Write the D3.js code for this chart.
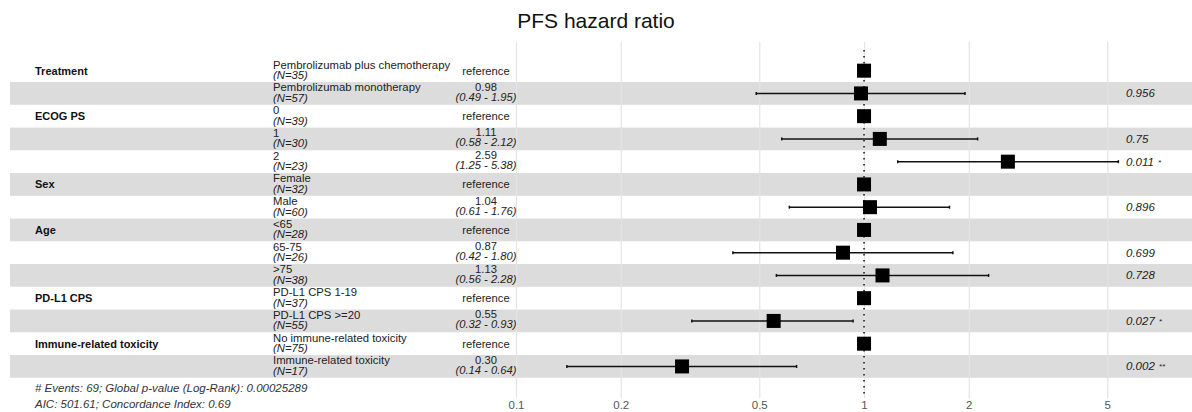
<!DOCTYPE html>
<html>
<head>
<meta charset="utf-8">
<script src="https://cdn.jsdelivr.net/npm/d3@7"></script>
<style>
  body { margin: 0; background: #fff; }
  svg text { font-family: "Liberation Sans", Arial, Helvetica, sans-serif; }
</style>
</head>
<body>
<script>
// group names (shown on first row of each group)
var varNames = ["Treatment", "", "ECOG PS", "", "", "Sex", "", "Age", "", "", "PD-L1 CPS", "", "Immune-related toxicity", ""];
var levels = ["Pembrolizumab plus chemotherapy", "Pembrolizumab monotherapy", "0", "1", "2", "Female", "Male",
              "<65", "65-75", ">75", "PD-L1 CPS 1-19", "PD-L1 CPS >=20", "No immune-related toxicity", "Immune-related toxicity"];
var nCounts = [35, 57, 39, 30, 23, 32, 60, 28, 26, 38, 37, 55, 75, 17];
// hazard ratios, null lower/upper = reference level
var hr    = [1, 0.98, 1, 1.11, 2.59, 1, 1.04, 1, 0.87, 1.13, 1, 0.55, 1, 0.30];
var lower = [null, 0.49, null, 0.58, 1.25, null, 0.61, null, 0.42, 0.56, null, 0.32, null, 0.14];
var upper = [null, 1.95, null, 2.12, 5.38, null, 1.76, null, 1.80, 2.28, null, 0.93, null, 0.64];
var pvals = ["", "0.956", "", "0.75", "0.011", "", "0.896", "", "0.699", "0.728", "", "0.027", "", "0.002"];
var stars = ["", "", "", "", "*", "", "", "", "", "", "", "*", "", "**"];
var ticks = [0.1, 0.2, 0.5, 1, 2, 5];

var width = 1192, height = 412;

var svg = d3.select("body").append("svg")
    .attr("width", width)
    .attr("height", height);

var x = d3.scaleLog()
    .domain([0.1, 5])
    .range([516, 1107.3]);

var y = d3.scaleBand()
    .domain(d3.range(levels.length))
    .range([59.3, 377.8]);

var rowH = y.bandwidth();

// stripes on every other row
svg.append("g").selectAll("rect")
    .data(d3.range(levels.length).filter(function(i) { return i % 2 == 1; }))
    .enter().append("rect")
    .attr("x", 10)
    .attr("width", width - 10)
    .attr("y", function(i) { return y(i); })
    .attr("height", rowH)
    .attr("fill", "#dcdcdc");

// vertical grid + tick labels via axis
var xAxis = d3.axisBottom(x)
    .tickValues(ticks)
    .tickFormat(function(d) { return d; })
    .tickSize(-(398 - 42))
    .tickPadding(5);

var ax = svg.append("g")
    .attr("transform", "translate(0,398)")
    .call(xAxis);
ax.select(".domain").remove();
ax.selectAll(".tick line").attr("stroke", "#e4e4e4").attr("stroke-width", 1.2);
ax.selectAll(".tick text")
    .attr("fill", "#555")
    .attr("font-size", "11.5px")
    .attr("dy", null)
    .attr("y", 11);

// dotted line at HR = 1
svg.append("line")
    .attr("x1", x(1)).attr("x2", x(1))
    .attr("y1", 50).attr("y2", 398)
    .attr("stroke", "#000")
    .attr("stroke-width", 1.4)
    .attr("stroke-dasharray", "1.5,4.5");

// title
svg.append("text")
    .attr("x", width / 2)
    .attr("y", 28)
    .attr("text-anchor", "middle")
    .attr("font-size", "21px")
    .attr("fill", "#111")
    .text("PFS hazard ratio");

var rows = svg.append("g").selectAll("g")
    .data(d3.range(levels.length))
    .enter().append("g")
    .attr("transform", function(i) { return "translate(0," + (y(i) + rowH / 2) + ")"; });

// variable names
rows.append("text")
    .attr("x", 35)
    .attr("y", 4)
    .attr("font-size", "11px")
    .attr("font-weight", "bold")
    .attr("fill", "#111")
    .text(function(i) { return varNames[i]; });

// level + N
rows.append("text")
    .attr("x", 273)
    .attr("y", -2)
    .attr("font-size", "11.3px")
    .attr("fill", "#222")
    .text(function(i) { return levels[i]; });
rows.append("text")
    .attr("x", 273)
    .attr("y", 8.5)
    .attr("font-size", "11.3px")
    .attr("font-style", "italic")
    .attr("fill", "#222")
    .text(function(i) { return "(N=" + nCounts[i] + ")"; });

// estimate text
rows.append("text")
    .attr("x", 486)
    .attr("y", function(i) { return lower[i] == null ? 4 : -2.5; })
    .attr("text-anchor", "middle")
    .attr("font-size", "11.2px")
    .attr("fill", "#222")
    .text(function(i) { return lower[i] == null ? "reference" : hr[i].toFixed(2); });
rows.filter(function(i) { return lower[i] != null; })
    .append("text")
    .attr("x", 486)
    .attr("y", 7.5)
    .attr("text-anchor", "middle")
    .attr("font-size", "11.2px")
    .attr("font-style", "italic")
    .attr("fill", "#222")
    .text(function(i) { return "(" + lower[i].toFixed(2) + " - " + upper[i].toFixed(2) + ")"; });

// confidence intervals
var ci = rows.filter(function(i) { return lower[i] != null; });
ci.append("line")
    .attr("x1", function(i) { return x(lower[i]); })
    .attr("x2", function(i) { return x(upper[i]); })
    .attr("stroke", "#111")
    .attr("stroke-width", 1.5);
ci.append("line")
    .attr("x1", function(i) { return x(lower[i]); })
    .attr("x2", function(i) { return x(lower[i]); })
    .attr("y1", -1.5).attr("y2", 1.5)
    .attr("stroke", "#111").attr("stroke-width", 1.5);
ci.append("line")
    .attr("x1", function(i) { return x(upper[i]); })
    .attr("x2", function(i) { return x(upper[i]); })
    .attr("y1", -1.5).attr("y2", 1.5)
    .attr("stroke", "#111").attr("stroke-width", 1.5);

// point estimates
rows.append("rect")
    .attr("x", function(i) { return x(hr[i]) - 7; })
    .attr("y", -7)
    .attr("width", 14)
    .attr("height", 14)
    .attr("fill", "#000");

// p-values with small raised stars
var pt = rows.append("text")
    .attr("x", 1126)
    .attr("y", 4)
    .attr("font-size", "11.5px")
    .attr("font-style", "italic")
    .attr("fill", "#222");
pt.append("tspan").text(function(i) { return pvals[i]; });
pt.append("tspan")
    .attr("font-size", "8px")
    .attr("dx", 4)
    .attr("dy", -1)
    .text(function(i) { return stars[i]; });

// footer
svg.append("text")
    .attr("x", 35).attr("y", 392)
    .attr("font-size", "11.5px").attr("font-style", "italic").attr("fill", "#333")
    .text("# Events: 69; Global p-value (Log-Rank): 0.00025289");
svg.append("text")
    .attr("x", 35).attr("y", 408)
    .attr("font-size", "11.5px").attr("font-style", "italic").attr("fill", "#333")
    .text("AIC: 501.61; Concordance Index: 0.69");
</script>
</body>
</html>
